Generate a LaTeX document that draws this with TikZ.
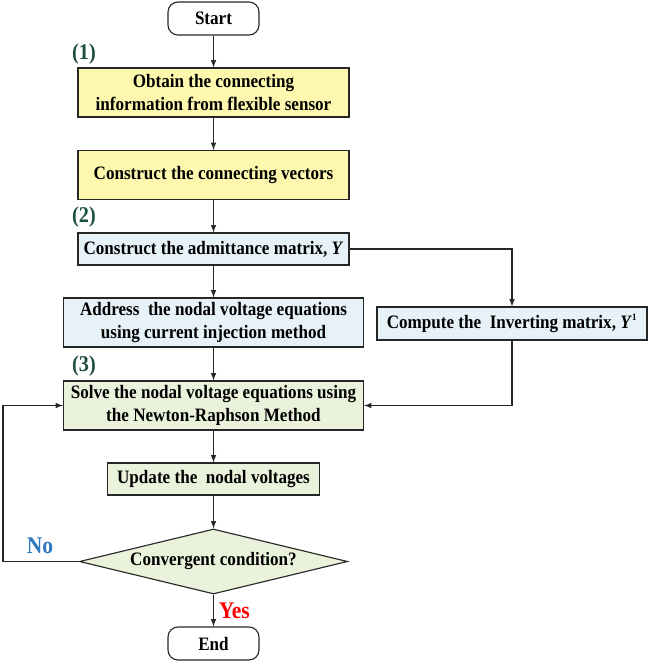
\documentclass[tikz,border=0pt]{standalone}
\usepackage{fontspec}
\setmainfont{Liberation Serif}[FakeStretch=0.9]
\usepackage{tikz}
\usetikzlibrary{shapes.geometric}
\definecolor{boxyellow}{HTML}{FDF8AE}
\definecolor{boxblue}{HTML}{E6F2F8}
\definecolor{boxgreen}{HTML}{EBF2DB}
\definecolor{stepgreen}{HTML}{1E4F40}
\definecolor{noblue}{HTML}{2E78BE}
\definecolor{lineblack}{HTML}{262626}

\begin{document}
\begin{tikzpicture}[>=latex, x=0.025cm, y=-0.025cm, font=\bfseries\fontsize{13.5}{16}\selectfont,
	termbox/.style={draw=lineblack, line width=0.8pt, rounded corners=0.25cm, minimum width=2.275cm, minimum height=0.825cm, inner sep=0pt},
	procbox/.style={draw=lineblack, line width=0.8pt, align=center, inner sep=0pt},
	decbox/.style={draw=lineblack, line width=0.8pt, diamond, aspect=4.1, fill=boxgreen, minimum width=6.7cm, minimum height=1.625cm, inner sep=0pt},
	steplabel/.style={text=stepgreen, font=\bfseries\fontsize{16}{18}\selectfont},
	flow/.style={->, draw=lineblack, line width=0.8pt}]
	\useasboundingbox (0,0) rectangle (650,663);

	\node[termbox] (start) at (213.5,18.5) {Start};
	\node[procbox, fill=boxyellow, minimum width=6.775cm, minimum height=1.225cm] (info) at (213.5,92.5) {Obtain the connecting\\information from flexible sensor};
	\node[procbox, fill=boxyellow, minimum width=6.775cm, minimum height=1.225cm] (vect) at (213.5,175) {Construct the connecting vectors};
	\node[procbox, fill=boxblue, minimum width=6.775cm, minimum height=0.8cm] (admit) at (213.5,249) {Construct the admittance matrix, \textit{Y}};
	\node[procbox, fill=boxblue, minimum width=7.5cm, minimum height=1.225cm] (addr) at (213.5,322.5) {Address~ the nodal voltage equations\\using current injection method};
	\node[procbox, fill=boxblue, minimum width=6.75cm, minimum height=0.825cm] (inv) at (512,323.5) {Compute the~ Inverting matrix, \textit{Y}\textsuperscript{\scriptsize 1}};
	\node[procbox, fill=boxgreen, minimum width=7.5cm, minimum height=1.225cm] (solve) at (213.5,405.5) {Solve the nodal voltage equations using\\the Newton-Raphson Method};
	\node[procbox, fill=boxgreen, minimum width=5.3cm, minimum height=0.8cm] (upd) at (213.5,479) {Update the~ nodal voltages};
	\node[decbox] (conv) at (213.5,561.5) {Convergent condition?};
	\node[termbox] (end) at (213.5,643.5) {End};

	\node[steplabel] (s1) at (84,54.5) {(1)};
	\node[steplabel] (s2) at (84,217) {(2)};
	\node[steplabel] (s3) at (84,366.5) {(3)};

	\coordinate (loop) at (3,561.5);

	\draw[flow] (start) -- (info);
	\draw[flow] (info) -- (vect);
	\draw[flow] (vect) -- (admit);
	\draw[flow] (admit) -- (addr);
	\draw[flow] (admit.east) -| (inv.north);
	\draw[flow] (addr) -- (solve);
	\draw[flow] (inv.south) |- (solve.east);
	\draw[flow] (solve) -- (upd);
	\draw[flow] (upd) -- (conv);
	\draw[flow] (conv) -- node[right, text=red, font=\bfseries\fontsize{17}{20}\selectfont] (yes) {Yes} (end);
	\draw[flow] (conv.west) -- (loop) |- (solve.west);
	\node[text=noblue, font=\bfseries\fontsize{17}{20}\selectfont] (no) at (40,546) {No};
\end{tikzpicture}
\end{document}
